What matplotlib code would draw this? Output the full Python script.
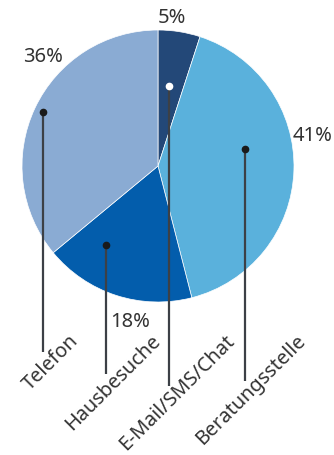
import matplotlib.pyplot as plt

# survey shares by contact channel
categories = ["E-Mail/SMS/Chat", "Beratungsstelle", "Hausbesuche", "Telefon"]
values = [5, 41, 18, 36]
colors = ["#234878", "#5ab1dc", "#035dac", "#8aabd3"]

W, H = 334, 456
plt.rcParams["font.family"] = ["Noto Sans", "DejaVu Sans"]
text_color = "#333333"
line_color = "#3c4046"

fig = plt.figure(figsize=(W / 100, H / 100), dpi=100, facecolor="white")
ax = fig.add_axes([0, 0, 1, 1])


def py(y):
    # image rows run top-down, the axes run bottom-up
    return H - y


cx, cy, radius = 158, 167, 136
ax.pie(
    values,
    colors=colors,
    startangle=90,
    counterclock=False,
    center=(cx, py(cy)),
    radius=radius,
    wedgeprops=dict(edgecolor="white", linewidth=0.5),
)

# percentage labels around the pie
pct_pos = [(172, 18), (313, 136), (130, 322), (43, 57)]
for v, (x, y) in zip(values, pct_pos):
    ax.text(x, py(y), f"{v}%", ha="center", va="center",
            fontsize=14.5, color=text_color)

# leader lines: dot inside the slice, line straight down to the label
dot_pos = [(169, 87), (245, 150), (106, 246), (43, 113)]
line_end = [387, 382, 375, 353]
dot_fill = ["white", "#1a1a1a", "#1a1a1a", "#1a1a1a"]
label_end = [(232, 338), (303, 338), (158, 338), (76, 338)]
for name, (x, y), ye, fc, (lx, ly) in zip(categories, dot_pos, line_end,
                                           dot_fill, label_end):
    ax.plot([x, x], [py(y), py(ye)], color=line_color, lw=1.6,
            solid_capstyle="butt", zorder=3)
    ax.plot(x, py(y), "o", ms=4.5, mfc=fc, mec=fc, zorder=4)
    ax.text(lx, py(ly), name, rotation=45, rotation_mode="anchor",
            ha="right", va="center", fontsize=14.3, color=text_color)

ax.set_xlim(0, W)
ax.set_ylim(0, H)
ax.set_aspect("equal")
ax.axis("off")
fig.savefig("out.png", dpi=100, facecolor="white")
